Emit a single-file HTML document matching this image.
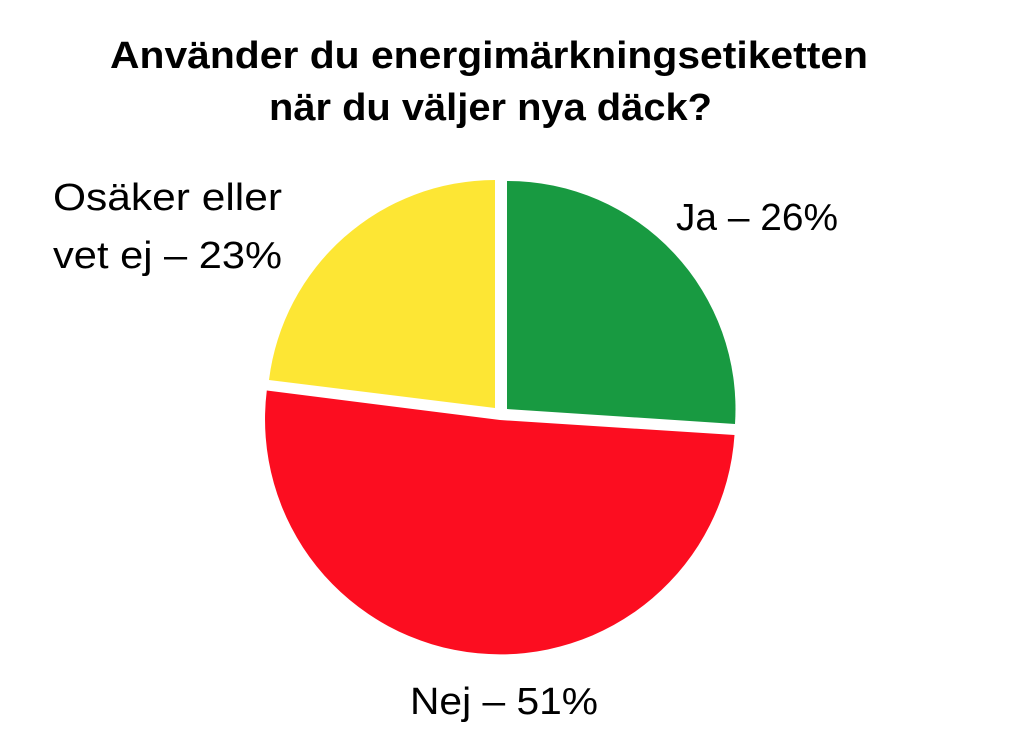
<!DOCTYPE html>
<html><head><meta charset="utf-8"><style>
body{margin:0;background:#fff;width:1024px;height:740px;overflow:hidden}
svg{display:block}
</style></head><body>
<svg width="1024" height="740" xmlns="http://www.w3.org/2000/svg" font-family="Liberation Sans, sans-serif">
<text x="110" y="68" font-size="38" font-weight="bold" textLength="758" lengthAdjust="spacingAndGlyphs">Använder du energimärkningsetiketten</text>
<text x="269" y="120" font-size="38" font-weight="bold" textLength="443" lengthAdjust="spacingAndGlyphs">när du väljer nya däck?</text>
<path d="M507,409 L507,181 A228,228 0 0 1 735,424 Z" fill="#189a41"/>
<path d="M495,408 L269,380 A228,228 0 0 1 495,180 Z" fill="#fde634"/>
<path d="M500,420 L734.5,435 A235,235 0 1 1 266.8,390.5 Z" fill="#fc0d20"/>
<text x="676" y="230" font-size="38" textLength="162" lengthAdjust="spacingAndGlyphs">Ja – 26%</text>
<text x="53" y="210" font-size="38" textLength="229" lengthAdjust="spacingAndGlyphs">Osäker eller</text>
<text x="53" y="268" font-size="38" textLength="229" lengthAdjust="spacingAndGlyphs">vet ej – 23%</text>
<text x="410" y="714" font-size="38" textLength="188" lengthAdjust="spacingAndGlyphs">Nej – 51%</text>
</svg>
</body></html>
